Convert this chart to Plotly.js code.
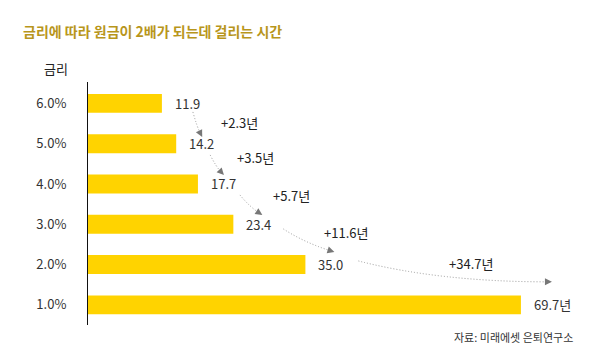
<!DOCTYPE html>
<html>
<head>
<meta charset="utf-8">
<script src="https://cdn.plot.ly/plotly-3.0.1.min.js"></script>
<style>
html,body{margin:0;padding:0;background:#fff;}
#chart{width:594px;height:364px;}
</style>
</head>
<body>
<div id="chart"></div>
<script>
// ---- data ----
const rates = ["1.0%", "2.0%", "3.0%", "4.0%", "5.0%", "6.0%"];
const years = [69.7, 35.0, 23.4, 17.7, 14.2, 11.9];
const valueLabels = ["69.7년", "35.0", "23.4", "17.7", "14.2", "11.9"];
const titleText = "금리에 따라 원금이 2배가 되는데 걸리는 시간";
const axisHeader = "금리";
const sourceText = "자료: 미래에셋 은퇴연구소";

// ---- layout constants ----
const W = 594, H = 364;
const M = {l: 88, r: 24, t: 82, b: 39};
const XR = [0, 77.6];
const YR = [-0.5, 5.53];
const FONT = '"Noto Sans CJK KR", "Noto Sans", sans-serif';
const plotW = W - M.l - M.r, plotH = H - M.t - M.b;
const pxPerX = plotW / (XR[1] - XR[0]);
const pxPerY = plotH / (YR[1] - YR[0]);

const idx = rates.map((_, i) => i);

// delta label offsets (px) relative to next bar end / midpoint between rows
const deltaOff = [[63, 1.5], [58, 6], [58, 9], [41, 12], [-50, 21.5]];
// arrow offsets (px): start rel. to (bar end, row centre) of higher rate row, end rel. to lower rate row; y down
const arrowOff = [
  {s: [31, 8.6], e: [26, -6.7], a: 0.42, b: 0.58},
  {s: [34, 11.3], e: [26, -9], a: 0.42, b: 0.58},
  {s: [42, 11], e: [29, -9.3], a: 0.42, b: 0.58},
  {s: [50, 4.7], e: [29, -12.6], a: 0.42, b: 0.6},
  {s: [53, -3.6], e: [31, -23], a: 0.42, b: 1.0}
];

const annotations = [];
const shapes = [];

// value labels
idx.forEach(i => {
  annotations.push({
    x: years[i], y: i, xref: 'x', yref: 'y', text: valueLabels[i],
    showarrow: false, xanchor: 'left', yanchor: 'middle', xshift: 11,
    font: {family: FONT, size: 13, color: '#333'}
  });
});

// deltas & arrows: from rate i+1 (higher rate, shorter time) down to rate i
for (let k = 0; k < 5; k++) {
  const hi = 5 - k;
  const lo = hi - 1;
  const delta = (years[lo] - years[hi]).toFixed(1);
  annotations.push({
    x: years[lo], y: hi - 0.5, xref: 'x', yref: 'y', text: '+' + delta + '년',
    showarrow: false, xanchor: 'center', yanchor: 'middle',
    xshift: deltaOff[k][0], yshift: deltaOff[k][1],
    font: {family: FONT, size: 13, color: '#222'}
  });
  const o = arrowOff[k];
  const sx = years[hi] + o.s[0] / pxPerX, sy = hi - o.s[1] / pxPerY;
  const ex = years[lo] + o.e[0] / pxPerX, ey = lo - o.e[1] / pxPerY;
  const cx = sx + o.a * (ex - sx), cy = sy + o.b * (ey - sy);
  const dxp = (ex - cx) * pxPerX, dyp = -(ey - cy) * pxPerY;
  const len = Math.hypot(dxp, dyp) || 1;
  const ux = dxp / len, uy = dyp / len;
  const back = 4;
  const lx = ex - ux * back / pxPerX, ly = ey + uy * back / pxPerY;
  shapes.push({
    type: 'path', xref: 'x', yref: 'y',
    path: `M ${sx},${sy} Q ${cx},${cy} ${lx},${ly}`,
    line: {color: '#9a9a9a', width: 1, dash: '1px,2px'}
  });
  annotations.push({
    x: ex, y: ey, xref: 'x', yref: 'y', text: '', showarrow: true,
    ax: -ux * 7, ay: -uy * 7, arrowhead: 2, arrowsize: 1.4, arrowwidth: 1,
    arrowcolor: '#777', standoff: 0
  });
}

// header + source
annotations.push({
  xref: 'paper', yref: 'paper', x: (42 - M.l) / plotW, y: 1 + (M.t - 68) / plotH,
  text: axisHeader, showarrow: false, xanchor: 'left', yanchor: 'middle',
  font: {family: FONT, size: 13, color: '#222'}
});
annotations.push({
  xref: 'paper', yref: 'paper', x: (575 - M.l) / plotW, y: -(337 - (H - M.b)) / plotH,
  text: sourceText, showarrow: false, xanchor: 'right', yanchor: 'middle',
  font: {family: FONT, size: 11, color: '#333'}
});

const trace = {
  type: 'bar', orientation: 'h', x: years, y: idx, width: 0.47,
  marker: {color: '#FFD300'}, hoverinfo: 'skip'
};

const layout = {
  width: W, height: H, margin: M,
  paper_bgcolor: '#fff', plot_bgcolor: '#fff',
  showlegend: false,
  title: {
    text: titleText, x: 23 / W, xanchor: 'left', xref: 'container',
    y: 1 - 32 / H, yanchor: 'middle', yref: 'container',
    font: {family: FONT, size: 14, color: '#B8961C', weight: 'bold'}
  },
  xaxis: {range: XR, visible: false, fixedrange: true},
  yaxis: {
    range: YR, tickvals: idx, ticktext: rates, showline: true, linecolor: '#111',
    linewidth: 1, showgrid: false, zeroline: false, ticks: '',
    ticklabelstandoff: 18, tickfont: {family: FONT, size: 13, color: '#333'},
    fixedrange: true
  },
  shapes: shapes,
  annotations: annotations,
  font: {family: FONT}
};

Plotly.newPlot('chart', [trace], layout, {displayModeBar: false, staticPlot: true});
</script>
</body>
</html>
